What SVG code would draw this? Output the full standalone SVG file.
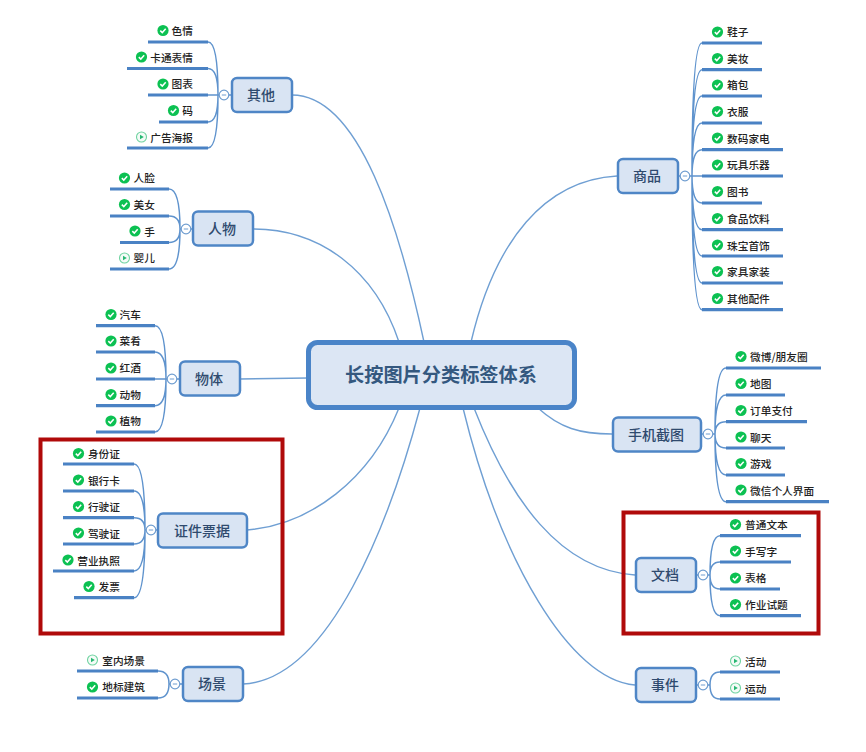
<svg xmlns="http://www.w3.org/2000/svg" width="866" height="752" viewBox="0 0 866 752">
<style>
text{font-family:"Noto Sans CJK SC","Liberation Sans",sans-serif}
.n{fill:#d9e4f3;stroke:#4f86c6;stroke-width:2.5}
.c{fill:#dce6f4;stroke:#4a84c8;stroke-width:5}
.t{font-size:14px;font-weight:500;fill:#2f4a6e;text-anchor:middle}
.m{font-size:19.2px;font-weight:700;fill:#34587f;text-anchor:middle}
.l{font-size:10.7px;font-weight:500;fill:#222}
.e{text-anchor:end}
.b{stroke:#4a82c4;stroke-width:3.2;fill:none}
.w{stroke:#5f93cd;stroke-width:1.5;fill:none}
.f{stroke:#6f9fd3;stroke-width:1.4;fill:none}
.red{fill:none;stroke:#b00a0a;stroke-width:4}
</style>
<defs>
<g id="ok"><circle r="5.6" fill="#0cc152"/><path d="M-2.7 0.1L-0.7 2.1L2.7-1.7" fill="none" stroke="#fff" stroke-width="1.5"/></g>
<g id="pl"><circle r="5" fill="#f4fbf7" stroke="#6fd3a0" stroke-width="1.1"/><path d="M-1.5-2.3L2.3 0L-1.5 2.3Z" fill="#27b872"/></g>
<g id="cl"><circle r="4.8" fill="#fff" stroke="#6f9dd0" stroke-width="1.2"/><path d="M-2.2 0H2.2" stroke="#6f9dd0" stroke-width="1"/></g>
</defs>
<rect width="866" height="752" fill="#fff"/>
<g id="connectors">
<path class="f" d="M292 95C360 95 400 230 424 342"/>
<path class="f" d="M253 229C320 229 375 270 399 342"/>
<path class="f" d="M240 379L308 378"/>
<path class="f" d="M247 530C310 525 370 480 399 408"/>
<path class="f" d="M243 684C330 680 390 520 420 408"/>
<path class="f" d="M617 176C545 180 495 240 471 342"/>
<path class="f" d="M612 434C580 434 560 428 538 408"/>
<path class="f" d="M635 575C560 570 510 500 474 408"/>
<path class="f" d="M635 685C570 680 500 560 463 408"/>
<g class="w">
<path d="M231 95H218M218 95Q218 42 208 42M218 95Q218 68.500 208 68.500M218 95H208M218 95Q218 122 208 122M218 95Q218 148 208 148"/>
<path d="M192 229H180M180 229Q180 189 169 189M180 229Q180 216 169 216M180 229Q180 242.500 169 242.500M180 229Q180 269 169 269"/>
<path d="M179 379H155M166 379Q166 325.700 155 325.700M166 379Q166 352 155 352M166 379Q166 405.700 155 405.700M166 379Q166 432 155 432"/>
<path d="M157 530H145M145 530Q145 464 134 464M145 530Q145 491 134 491M145 530Q145 517.700 134 517.700M145 530Q145 544 134 544M145 530Q145 571 134 571M145 530Q145 597.700 134 597.700"/>
<path d="M182 684H169M169 684Q169 671 158 671M169 684Q169 698 158 698"/>
<path d="M678 176H702M692 176Q692 43 702 43M692 176Q692 69.700 702 69.700M692 176Q692 96 702 96M692 176Q692 123 702 123M692 176Q692 149.700 702 149.700M692 176Q692 203 702 203M692 176Q692 229.700 702 229.700M692 176Q692 256 702 256M692 176Q692 283 702 283M692 176Q692 309.700 702 309.700"/>
<path d="M701 434H715M715 434Q715 368 726 368M715 434Q715 395 726 395M715 434Q715 421.700 726 421.700M715 434Q715 448 726 448M715 434Q715 475 726 475M715 434Q715 501.700 726 501.700"/>
<path d="M696 575H710M710 575Q710 535.700 720 535.700M710 575Q710 562 720 562M710 575Q710 589 720 589M710 575Q710 615.700 720 615.700"/>
<path d="M696 685H710M710 685Q710 672 720 672M710 685Q710 699 720 699"/>
</g>
</g>
<g id="highlights"><rect class="red" x="40.500" y="439.500" width="242" height="194"/><rect class="red" x="623.500" y="512.500" width="195" height="121"/></g>
<g id="center"><rect class="c" x="308.500" y="342.500" width="266" height="65" rx="9"/><text class="m" x="441" y="382">长按图片分类标签体系</text></g>

<g id="qita"><rect class="n" x="232" y="78" width="60" height="34" rx="5"/><text class="t" x="261" y="100">其他</text><use href="#cl" x="224" y="95"/></g>
<g id="qita-1"><path class="b" d="M148 42H208"/><use href="#ok" x="163" y="30.500"/><text class="l e" x="193" y="35">色情</text></g>
<g id="qita-2"><path class="b" d="M127 68.500H208"/><use href="#ok" x="141.500" y="57"/><text class="l e" x="193" y="61.500">卡通表情</text></g>
<g id="qita-3"><path class="b" d="M148 95H208"/><use href="#ok" x="163" y="84"/><text class="l e" x="193" y="88">图表</text></g>
<g id="qita-4"><path class="b" d="M159 122H208"/><use href="#ok" x="173.500" y="110.500"/><text class="l e" x="193" y="115">码</text></g>
<g id="qita-5"><path class="b" d="M127 148H208"/><use href="#pl" x="141.500" y="137"/><text class="l e" x="193" y="141.500">广告海报</text></g>

<g id="renwu"><rect class="n" x="193" y="211.500" width="60" height="34" rx="5"/><text class="t" x="222" y="234">人物</text><use href="#cl" x="186" y="229"/></g>
<g id="renwu-1"><path class="b" d="M110 189H169"/><use href="#ok" x="124.500" y="178"/><text class="l e" x="155" y="182">人脸</text></g>
<g id="renwu-2"><path class="b" d="M110 216H169"/><use href="#ok" x="124.500" y="204.500"/><text class="l e" x="155" y="209">美女</text></g>
<g id="renwu-3"><path class="b" d="M120 242.500H169"/><use href="#ok" x="135" y="231"/><text class="l e" x="155" y="235.500">手</text></g>
<g id="renwu-4"><path class="b" d="M110 269H169"/><use href="#pl" x="124.500" y="258"/><text class="l e" x="155" y="262">婴儿</text></g>

<g id="wuti"><rect class="n" x="180" y="361.500" width="60" height="34" rx="5"/><text class="t" x="209" y="384">物体</text><use href="#cl" x="172" y="379"/></g>
<g id="wuti-1"><path class="b" d="M96 325.700H155"/><use href="#ok" x="111" y="314.500"/><text class="l e" x="141" y="319">汽车</text></g>
<g id="wuti-2"><path class="b" d="M96 352H155"/><use href="#ok" x="111" y="341"/><text class="l e" x="141" y="345">菜肴</text></g>
<g id="wuti-3"><path class="b" d="M96 379H155"/><use href="#ok" x="111" y="368"/><text class="l e" x="141" y="372">红酒</text></g>
<g id="wuti-4"><path class="b" d="M96 405.700H155"/><use href="#ok" x="111" y="394.500"/><text class="l e" x="141" y="399">动物</text></g>
<g id="wuti-5"><path class="b" d="M96 432H155"/><use href="#ok" x="111" y="421"/><text class="l e" x="141" y="425">植物</text></g>

<g id="zhengjian"><rect class="n" x="158" y="513.500" width="89" height="34" rx="5"/><text class="t" x="202" y="535.500">证件票据</text><use href="#cl" x="151" y="530"/></g>
<g id="zj-1"><path class="b" d="M63 464H134"/><use href="#ok" x="78.500" y="453.500"/><text class="l e" x="120" y="458">身份证</text></g>
<g id="zj-2"><path class="b" d="M63 491H134"/><use href="#ok" x="78.500" y="480"/><text class="l e" x="120" y="484.500">银行卡</text></g>
<g id="zj-3"><path class="b" d="M63 517.700H134"/><use href="#ok" x="78.500" y="506.500"/><text class="l e" x="120" y="511">行驶证</text></g>
<g id="zj-4"><path class="b" d="M63 544H134"/><use href="#ok" x="78.500" y="533"/><text class="l e" x="120" y="537.500">驾驶证</text></g>
<g id="zj-5"><path class="b" d="M53 571H134"/><use href="#ok" x="68" y="560"/><text class="l e" x="120" y="564.500">营业执照</text></g>
<g id="zj-6"><path class="b" d="M74 597.700H134"/><use href="#ok" x="89" y="586.500"/><text class="l e" x="120" y="591">发票</text></g>

<g id="changjing"><rect class="n" x="183" y="667" width="60" height="34" rx="5"/><text class="t" x="212" y="689">场景</text><use href="#cl" x="175" y="684"/></g>
<g id="cj-1"><path class="b" d="M77 671H158"/><use href="#pl" x="92.500" y="660"/><text class="l e" x="145" y="664.500">室内场景</text></g>
<g id="cj-2"><path class="b" d="M77 698H158"/><use href="#ok" x="92.500" y="687"/><text class="l e" x="145" y="691">地标建筑</text></g>

<g id="shangpin"><rect class="n" x="618" y="159" width="60" height="34" rx="5"/><text class="t" x="647" y="181">商品</text><use href="#cl" x="685" y="176"/></g>
<g id="sp-1"><path class="b" d="M702 43H762"/><use href="#ok" x="717.500" y="32"/><text class="l" x="727" y="36">鞋子</text></g>
<g id="sp-2"><path class="b" d="M702 69.700H762"/><use href="#ok" x="717.500" y="58.500"/><text class="l" x="727" y="63">美妆</text></g>
<g id="sp-3"><path class="b" d="M702 96H762"/><use href="#ok" x="717.500" y="85"/><text class="l" x="727" y="89">箱包</text></g>
<g id="sp-4"><path class="b" d="M702 123H762"/><use href="#ok" x="717.500" y="111.500"/><text class="l" x="727" y="116">衣服</text></g>
<g id="sp-5"><path class="b" d="M702 149.700H783"/><use href="#ok" x="717.500" y="138"/><text class="l" x="727" y="142.500">数码家电</text></g>
<g id="sp-6"><path class="b" d="M702 176H783"/><use href="#ok" x="717.500" y="165"/><text class="l" x="727" y="169">玩具乐器</text></g>
<g id="sp-7"><path class="b" d="M702 203H762"/><use href="#ok" x="717.500" y="191.500"/><text class="l" x="727" y="196">图书</text></g>
<g id="sp-8"><path class="b" d="M702 229.700H783"/><use href="#ok" x="717.500" y="218.500"/><text class="l" x="727" y="223">食品饮料</text></g>
<g id="sp-9"><path class="b" d="M702 256H783"/><use href="#ok" x="717.500" y="245"/><text class="l" x="727" y="249.500">珠宝首饰</text></g>
<g id="sp-10"><path class="b" d="M702 283H783"/><use href="#ok" x="717.500" y="271.500"/><text class="l" x="727" y="276">家具家装</text></g>
<g id="sp-11"><path class="b" d="M702 309.700H783"/><use href="#ok" x="717.500" y="298.500"/><text class="l" x="727" y="303">其他配件</text></g>

<g id="shouji"><rect class="n" x="613" y="417.500" width="88" height="34" rx="5"/><text class="t" x="656" y="439.500">手机截图</text><use href="#cl" x="708" y="434"/></g>
<g id="sj-1"><path class="b" d="M726 368H821"/><use href="#ok" x="741" y="356.500"/><text class="l" x="750" y="361">微博/朋友圈</text></g>
<g id="sj-2"><path class="b" d="M726 395H785"/><use href="#ok" x="741" y="383.500"/><text class="l" x="750" y="388">地图</text></g>
<g id="sj-3"><path class="b" d="M726 421.700H807"/><use href="#ok" x="741" y="410.500"/><text class="l" x="750" y="415">订单支付</text></g>
<g id="sj-4"><path class="b" d="M726 448H785"/><use href="#ok" x="741" y="437"/><text class="l" x="750" y="441.500">聊天</text></g>
<g id="sj-5"><path class="b" d="M726 475H785"/><use href="#ok" x="741" y="463.500"/><text class="l" x="750" y="468">游戏</text></g>
<g id="sj-6"><path class="b" d="M726 501.700H829"/><use href="#ok" x="741" y="490"/><text class="l" x="750" y="495">微信个人界面</text></g>

<g id="wendang"><rect class="n" x="636" y="558" width="60" height="34" rx="5"/><text class="t" x="665" y="580">文档</text><use href="#cl" x="703" y="575"/></g>
<g id="wd-1"><path class="b" d="M720 535.700H801"/><use href="#ok" x="735.500" y="524.500"/><text class="l" x="745" y="529">普通文本</text></g>
<g id="wd-2"><path class="b" d="M720 562H791"/><use href="#ok" x="735.500" y="551"/><text class="l" x="745" y="555.500">手写字</text></g>
<g id="wd-3"><path class="b" d="M720 589H780"/><use href="#ok" x="735.500" y="578"/><text class="l" x="745" y="582">表格</text></g>
<g id="wd-4"><path class="b" d="M720 615.700H801"/><use href="#ok" x="735.500" y="604.500"/><text class="l" x="745" y="609">作业试题</text></g>

<g id="shijian"><rect class="n" x="636" y="668" width="60" height="34" rx="5"/><text class="t" x="665" y="690">事件</text><use href="#cl" x="703" y="685"/></g>
<g id="sj2-1"><path class="b" d="M720 672H780"/><use href="#pl" x="735.500" y="661"/><text class="l" x="745" y="665.500">活动</text></g>
<g id="sj2-2"><path class="b" d="M720 699H780"/><use href="#pl" x="735.500" y="688"/><text class="l" x="745" y="692.500">运动</text></g>
</svg>
